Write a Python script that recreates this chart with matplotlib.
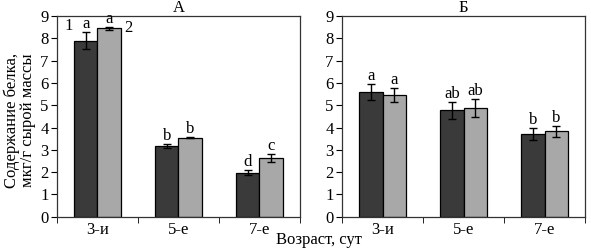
import matplotlib
matplotlib.use("Agg")
import matplotlib.pyplot as plt
import numpy as np

plt.rcParams['font.family'] = ['Liberation Serif', 'DejaVu Serif']
plt.rcParams['font.size'] = 12

categories = ["3-и", "5-е", "7-е"]
panel_titles = ["А", "Б"]

a_s1 = [7.9, 3.18, 1.98]
a_s1_err = [0.40, 0.08, 0.12]
a_s2 = [8.45, 3.55, 2.62]
a_s2_err = [0.07, 0.04, 0.18]
a_s1_lbl = ["a", "b", "d"]
a_s2_lbl = ["a", "b", "c"]

b_s1 = [5.6, 4.78, 3.72]
b_s1_err = [0.37, 0.38, 0.28]
b_s2 = [5.45, 4.87, 3.84]
b_s2_err = [0.30, 0.40, 0.25]
b_s1_lbl = ["a", "ab", "b"]
b_s2_lbl = ["a", "ab", "b"]

yticks = list(range(0, 10))
series_names = ["1", "2"]

fig = plt.figure(figsize=(5.91, 2.5), dpi=100)
ax1 = fig.add_axes([0.0964, 0.133, 0.4112, 0.803])
ax2 = fig.add_axes([0.5787, 0.133, 0.4112, 0.803])

dark = "#3a3a3a"
light = "#a8a8a8"
w = 0.285
x = np.arange(len(categories))

def draw(ax, s1, e1, s2, e2, l1, l2, title):
    ax.bar(x - w/2, s1, w, color=dark, edgecolor="black", linewidth=0.9)
    ax.bar(x + w/2, s2, w, color=light, edgecolor="black", linewidth=0.9)
    ax.errorbar(x - w/2, s1, yerr=e1, fmt="none", ecolor="black", elinewidth=1.0, capsize=3, capthick=1.0)
    ax.errorbar(x + w/2, s2, yerr=e2, fmt="none", ecolor="black", elinewidth=1.0, capsize=3, capthick=1.0)
    for xi, v, e, t in zip(x - w/2, s1, e1, l1):
        ax.annotate(t, (xi, v + e), xytext=(0, 0), textcoords="offset points", ha="center", va="bottom")
    for xi, v, e, t in zip(x + w/2, s2, e2, l2):
        ax.annotate(t, (xi, v + e), xytext=(0, 0), textcoords="offset points", ha="center", va="bottom", annotation_clip=False)
    ax.set_xlim(-0.5, len(categories) - 0.5)
    ax.set_ylim(0, 9)
    ax.set_yticks(yticks)
    ax.set_xticks(x)
    ax.set_xticklabels(categories)
    ax.set_xticks([-0.5, 0.5, 1.5, 2.5], minor=True)
    ax.tick_params(axis="x", which="major", length=0, pad=4)
    ax.tick_params(axis="x", which="minor", length=4, direction="out")
    ax.tick_params(axis="y", length=4, direction="out", pad=2)
    for sp in ax.spines.values():
        sp.set_linewidth(0.9)
        sp.set_color("#333333")
    ax.set_title(title, fontsize=12, pad=1)

draw(ax1, a_s1, a_s1_err, a_s2, a_s2_err, a_s1_lbl, a_s2_lbl, panel_titles[0])
draw(ax2, b_s1, b_s1_err, b_s2, b_s2_err, b_s1_lbl, b_s2_lbl, panel_titles[1])

ax1.annotate(series_names[0], (x[0] - w, a_s1[0] + a_s1_err[0]), xytext=(-1, -2), textcoords="offset points",
             ha="right", va="bottom", annotation_clip=False)
ax1.annotate(series_names[1], (x[0] + w, a_s2[0] + a_s2_err[0]), xytext=(3, -7), textcoords="offset points",
             ha="left", va="bottom", annotation_clip=False)

fig.text(0.033, 0.52, "Содержание белка,\nмкг/г сырой массы", rotation=90, ha="center", va="center",
         linespacing=1.0)
fig.text(0.54, 0.04, "Возраст, сут", ha="center", va="center")

fig.savefig("out.png", dpi=100)
